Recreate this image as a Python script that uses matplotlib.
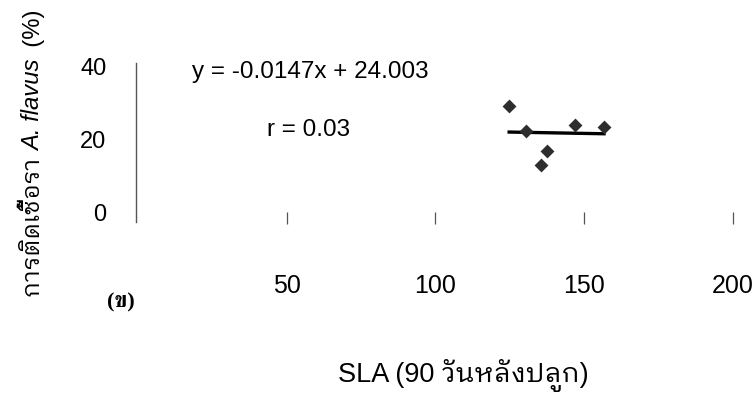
import matplotlib
matplotlib.use("Agg")
import matplotlib.pyplot as plt
import numpy as np

LATIN_THAI = ['Liberation Sans', 'IBM Plex Sans Thai Looped']
plt.rcParams['font.family'] = LATIN_THAI

# data
sla = [124.8, 130.4, 135.5, 137.6, 146.9, 156.7]
infection = [29.3, 22.5, 13.2, 17.1, 24.1, 23.6]
slope, intercept = -0.0147, 24.003
x_ticks = [50, 100, 150, 200]
y_ticks = [0, 20, 40]
eq_text = "y = -0.0147x + 24.003"
r_text = "r = 0.03"
ylabel_parts = [("การติดเชื้อรา ", 'normal'), ("A. flavus", 'italic'), ("  (%)", 'normal')]
xlabel_text = "SLA (90 วันหลังปลูก)"
panel_text = "(ข)"

W, H = 753, 401
fig = plt.figure(figsize=(W / 100, H / 100), dpi=100)
ax = fig.add_axes([138 / W, 1 - 224.3 / H, (732.8 - 138) / W, (224.3 - 63.3) / H])
ax.set_xlim(0, 200)
ax.set_ylim(-3.1, 41.0)

ax.scatter(sla, infection, marker='D', s=50, color='#2e2e2e', zorder=3, linewidths=0)
xf = np.array([min(sla), max(sla)])
ax.plot(xf, slope * xf + intercept, color='black', lw=2.4, zorder=2)

for s in ['top', 'right', 'bottom']:
    ax.spines[s].set_visible(False)
ax.spines['left'].set_position(('outward', 1.7))
ax.spines['left'].set_bounds(-2.4, 41.0)
ax.spines['left'].set_color('#555555')
ax.spines['left'].set_linewidth(1.0)

ax.set_xticks(x_ticks)
ax.set_yticks(y_ticks)
ax.tick_params(axis='y', length=0, pad=21, labelsize=17)
ax.tick_params(axis='x', direction='in', length=9, width=0.9, color='#555555',
               pad=36, labelsize=18)

ax.text(18.1, 36.9, eq_text, fontsize=17.5, va='baseline', ha='left')
ax.text(43.4, 21.1, r_text, fontsize=17.5, va='baseline', ha='left')

# y label built from pieces so the Thai font fallback works with the italic part
fig.canvas.draw()
renderer = fig.canvas.get_renderer()
base_x = 40 / W
y_start, y_end = 297.0, 9.0


def draw_ylabel(fs):
    texts = []
    y_px = y_start
    for txt, style in ylabel_parts:
        t = fig.text(base_x, 1 - y_px / H, txt, rotation=90, rotation_mode='anchor',
                     ha='left', va='baseline', fontsize=fs, fontstyle=style)
        y_px -= t.get_window_extent(renderer).height
        texts.append(t)
    return texts, y_start - y_px


texts, length = draw_ylabel(18)
fs = 18 * (y_start - y_end) / length
for t in texts:
    t.remove()
draw_ylabel(min(fs, 19))

fig.text(463 / W, 1 - 382 / H, xlabel_text, ha='center', va='baseline', fontsize=19.5)
fig.text(121 / W, 1 - 307 / H, panel_text, ha='center', va='baseline', fontsize=16,
         fontweight='bold', family=['Liberation Serif', 'FreeSerif'])

fig.savefig('out.png', dpi=100, facecolor='white')
